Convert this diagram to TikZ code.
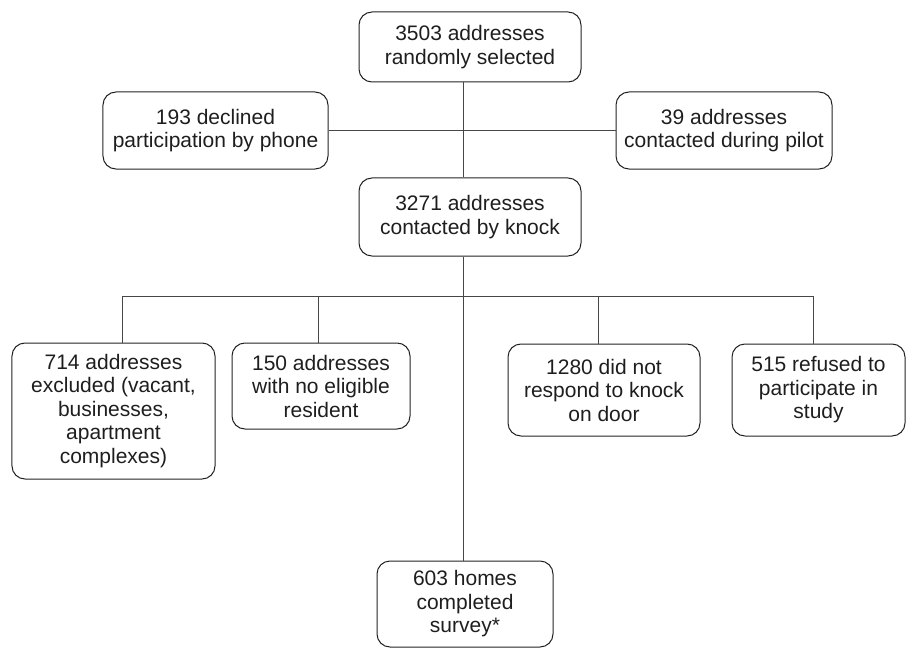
\documentclass[tikz,border=0pt]{standalone}
\usepackage{fontspec}
\setmainfont{Liberation Sans}
\usepackage{xcolor}
\usepackage{tikz}
\definecolor{boxline}{RGB}{35,35,35}
\definecolor{linkgray}{RGB}{70,70,70}
\definecolor{txtgray}{RGB}{30,30,30}

\tikzset{
  flowbox/.style={draw=boxline, line width=1bp, rounded corners=13bp,
    align=center, inner sep=0pt, text=txtgray,
    font=\fontsize{21bp}{23.5bp}\selectfont},
  link/.style={draw=linkgray, line width=1bp}
}

\begin{document}
\begin{tikzpicture}[x=1bp,y=-1bp]
\useasboundingbox (0,0) rectangle (922,649);

% top of the flow
\node[flowbox, minimum width=222bp, minimum height=70bp] (sel) at (470,47) {3503 addresses\\randomly selected};
\node[flowbox, minimum width=225bp, minimum height=77bp] (decl) at (215.5,130.5) {193 declined\\participation by phone};
\node[flowbox, minimum width=216bp, minimum height=77bp] (pilot) at (724,130.5) {39 addresses\\contacted during pilot};
\node[flowbox, minimum width=222bp, minimum height=78bp] (knock) at (470,217) {3271 addresses\\contacted by knock};

% outcomes of the knock
\node[flowbox, minimum width=203bp, minimum height=136bp] (excl) at (113.5,411) {714 addresses\\excluded (vacant,\\businesses,\\apartment\\complexes)};
\node[flowbox, minimum width=178bp, minimum height=86bp] (elig) at (321,386) {150 addresses\\with no eligible\\resident};
\node[flowbox, minimum width=192bp, minimum height=92bp] (noresp) at (604,390) {1280 did not\\respond to knock\\on door};
\node[flowbox, minimum width=173bp, minimum height=92bp] (refus) at (818.5,390) {515 refused to\\participate in\\study};
\node[flowbox, minimum width=176bp, minimum height=86bp] (done) at (465,604) {603 homes\\completed\\survey*};

% spine and branches
\coordinate (spine) at (463,0);
\coordinate (br1) at (122,296);
\coordinate (br2) at (318,296);
\coordinate (br3) at (598,296);
\coordinate (br4) at (813,296);

\draw[link] (sel.south -| spine) -- (knock.north -| spine);
\draw[link] (decl.east) -- (pilot.west);
\draw[link] (knock.south -| spine) -- (done.north -| spine);
\draw[link] (br1) -- (br4);
\draw[link] (br1) -- (br1 |- excl.north);
\draw[link] (br2) -- (br2 |- elig.north);
\draw[link] (br3) -- (br3 |- noresp.north);
\draw[link] (br4) -- (br4 |- refus.north);

\end{tikzpicture}
\end{document}
